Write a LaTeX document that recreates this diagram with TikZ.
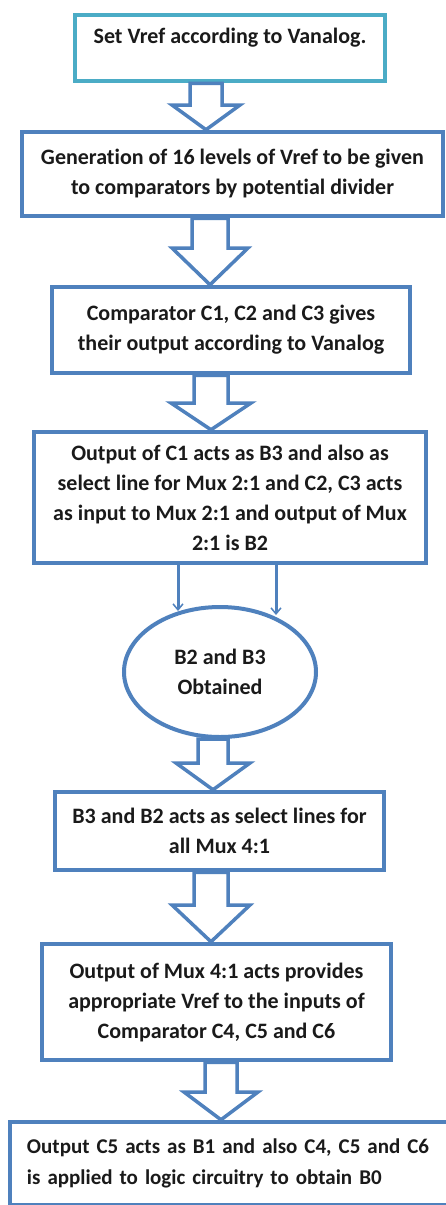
\documentclass[tikz,border=0pt]{standalone}
\usepackage{fontspec}
\setmainfont{Carlito}[Ligatures=NoCommon]
\usetikzlibrary{arrows.meta,shapes.geometric,calc}
\definecolor{obl}{HTML}{4F81BD}
\definecolor{ocy}{HTML}{4BACC6}
\definecolor{txt}{HTML}{1A1A1A}
\newcommand\blockarr[6]{%
  \pgfmathsetmacro\xl{#3-#4}\pgfmathsetmacro\xr{#3+#4}%
  \pgfmathsetmacro\hl{#3-#5}\pgfmathsetmacro\hr{#3+#5}%
  \draw[barr] (\xl,0 |- #1.south) -- (\xl,#6) -- (\hl,#6) -- (#3,0 |- #2.north)
    -- (\hr,#6) -- (\xr,#6) -- (\xr,0 |- #1.south) -- cycle;}
\begin{document}
\begin{tikzpicture}[x=1pt,y=-1pt,
  font=\fontsize{22}{30}\selectfont\bfseries,
  box/.style={draw=obl,line width=4.5pt,fill=white,inner sep=0pt,align=center,text=txt},
  barr/.style={draw=obl,line width=3.5pt,fill=white,line join=miter},
  thinarr/.style={draw=obl,line width=3pt,-{Straight Barb[length=6pt,width=10pt,line width=1.5pt]}}]
\useasboundingbox (0,0) rectangle (445,1205);
\fill[white] (0,0) rectangle (445,1205);
% nodes
\node[box,draw=ocy,minimum width=310pt,minimum height=66pt,
  label={[text=txt,yshift=10pt]center:Set Vref according to Vanalog.}] (b1) at (230,48) {};
\node[box,minimum width=421pt,minimum height=84pt] (b2) at (232.5,174)
  {Generation of 16 levels of Vref to be given\\to comparators by potential divider};
\node[box,minimum width=358pt,minimum height=86pt] (b3) at (231,330)
  {Comparator C1, C2 and C3 gives\\their output according to Vanalog};
\node[box,minimum width=392pt,minimum height=131pt] (b4) at (230,497.5)
  {Output of C1 acts as B3 and also as\\select line for Mux 2:1 and C2, C3 acts\\as input to Mux 2:1 and output of Mux\\2:1 is B2};
\node[box,ellipse,line width=4pt,minimum width=192pt,minimum height=130pt] (e) at (220,672)
  {B2 and B3\\Obtained};
\node[box,minimum width=329pt,minimum height=78pt] (b5) at (219.5,831)
  {B3 and B2 acts as select lines for\\all Mux 4:1};
\node[box,minimum width=349pt,minimum height=116pt] (b6) at (216.5,1002)
  {Output of Mux 4:1 acts provides\\appropriate Vref to the inputs of\\Comparator C4, C5 and C6};
\node[box,align=left,font=\fontsize{21}{31}\selectfont\bfseries,text width=420pt,inner xsep=17pt,minimum height=83pt] (b7) at (237,1163.5)
  {Output C5 acts as B1 and also C4, C5 and C6\\is applied to logic circuitry to obtain B0};
% connectors
\blockarr{b1}{b2}{206}{16}{34}{105}
\blockarr{b2}{b3}{210}{18}{38}{248}
\blockarr{b3}{b4}{211}{17}{40}{403}
\blockarr{e}{b5}{213}{15}{37}{763}
\blockarr{b5}{b6}{211}{17}{39}{905}
\blockarr{b6}{b7}{221}{16}{37}{1092}
\draw[thinarr] (178,0 |- b4.south) -- ($(e.north -| 178,0)+(0,6)$);
\draw[thinarr] (276,0 |- b4.south) -- ($(e.north -| 276,0)+(0,10)$);
\end{tikzpicture}
\end{document}
